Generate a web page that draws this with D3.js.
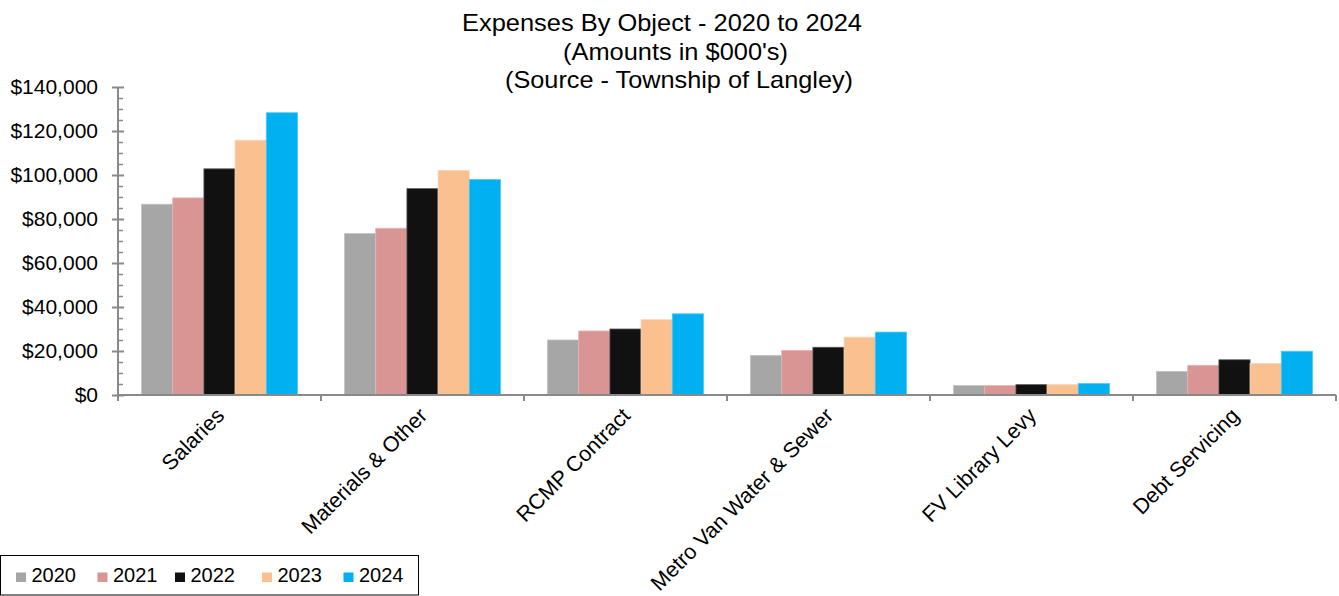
<!DOCTYPE html>
<html>
<head>
<meta charset="utf-8">
<script src="https://cdn.jsdelivr.net/npm/d3@7"></script>
<style>
  html, body { margin: 0; padding: 0; background: #fff; }
  svg { display: block; }
  text { font-family: "Liberation Sans", Arial, sans-serif; fill: #000; }
</style>
</head>
<body>
<svg id="chart" width="1339" height="596"></svg>
<script>
// Expense categories and yearly amounts ($000's)
const categories = ["Salaries", "Materials & Other", "RCMP Contract", "Metro Van Water & Sewer", "FV Library Levy", "Debt Servicing"];
const years = ["2020", "2021", "2022", "2023", "2024"];
const values2020 = [86700, 73400, 25000, 18000, 4300, 10700];
const values2021 = [89600, 75800, 29100, 20300, 4300, 13500];
const values2022 = [102800, 93800, 30000, 21700, 4700, 16000];
const values2023 = [115800, 102000, 34200, 26300, 4700, 14300];
const values2024 = [128300, 97900, 36900, 28600, 5200, 19900];
const yTicks = [0, 20000, 40000, 60000, 80000, 100000, 120000, 140000];
const titleLines = ["Expenses By Object - 2020 to 2024", "(Amounts in $000's)", "(Source - Township of Langley)"];

const seriesValues = [values2020, values2021, values2022, values2023, values2024];
const colors = ["#A6A6A6", "#D99594", "#111111", "#FAC090", "#00B0F0"];

const svg = d3.select("#chart");

const plot = { left: 118, right: 1336, top: 87, bottom: 395 };

const x0 = d3.scaleBand().domain(categories).range([plot.left, plot.right]).paddingInner(0).paddingOuter(0);
const bw = x0.bandwidth();
const x1 = d3.scaleBand().domain(years).range([bw * 0.116, bw * 0.884]).padding(0);
const y = d3.scaleLinear().domain([0, 140000]).range([plot.bottom, plot.top]);
const color = d3.scaleOrdinal().domain(years).range(colors);

// Title
const titleSpec = [
  { x: 462, y: 31, w: 400 },
  { x: 563, y: 60, w: 225 },
  { x: 505, y: 88, w: 348 }
];
svg.append("g").selectAll("text").data(titleLines).join("text")
  .attr("x", (d, i) => titleSpec[i].x)
  .attr("y", (d, i) => titleSpec[i].y)
  .attr("font-size", 24)
  .attr("textLength", (d, i) => titleSpec[i].w)
  .attr("lengthAdjust", "spacingAndGlyphs")
  .text(d => d);

// Bars
const groups = svg.append("g").selectAll("g").data(categories).join("g")
  .attr("transform", d => `translate(${x0(d)},0)`);

groups.selectAll("rect")
  .data((c, ci) => years.map((yr, si) => ({ year: yr, value: seriesValues[si][ci] })))
  .join("rect")
  .attr("x", d => x1(d.year))
  .attr("width", x1.bandwidth())
  .attr("y", d => y(d.value))
  .attr("height", d => y(0) - y(d.value))
  .attr("fill", d => color(d.year))
  .attr("stroke", d => d3.interpolateRgb(color(d.year), "#ffffff")(0.3))
  .attr("stroke-width", 0.8);

const axisColor = "#898989";

// Y axis: major ticks crossing the line, minor ticks on the inner side
const yAxis = svg.append("g").attr("transform", `translate(${plot.left},0)`)
  .call(d3.axisLeft(y).tickValues(yTicks).tickSize(6).tickPadding(14)
    .tickFormat(d => "$" + d3.format(",")(d)));
yAxis.select(".domain").attr("stroke", axisColor).attr("stroke-width", 2).attr("d", `M0,${plot.top}V${plot.bottom}`);
yAxis.selectAll(".tick line").attr("stroke", axisColor).attr("stroke-width", 2).attr("x1", -6).attr("x2", 6);
yAxis.selectAll(".tick text").attr("font-size", 21).attr("font-family", "Liberation Sans, Arial, sans-serif").attr("fill", "#000");

const minorTicks = d3.range(5000, 140000, 5000).filter(v => v % 20000 !== 0);
svg.append("g").attr("transform", `translate(${plot.left},0)`)
  .call(d3.axisRight(y).tickValues(minorTicks).tickSize(5).tickFormat(""))
  .call(g => g.select(".domain").remove())
  .call(g => g.selectAll(".tick line").attr("stroke", axisColor).attr("stroke-width", 1.5));

// X axis line with ticks at category boundaries
const boundaries = categories.map(c => x0(c)).concat([plot.right]);
svg.append("line")
  .attr("x1", plot.left).attr("x2", plot.right)
  .attr("y1", plot.bottom).attr("y2", plot.bottom)
  .attr("stroke", axisColor).attr("stroke-width", 2);
svg.append("g").selectAll("line").data(boundaries).join("line")
  .attr("x1", d => d).attr("x2", d => d)
  .attr("y1", plot.bottom).attr("y2", plot.bottom + 6)
  .attr("stroke", axisColor).attr("stroke-width", 2);

// Rotated category labels
svg.append("g").selectAll("text").data(categories).join("text")
  .attr("transform", d => `translate(${x0(d) + bw / 2 + 6},${plot.bottom + 22}) rotate(-45)`)
  .attr("text-anchor", "end")
  .attr("font-size", 21.5)
  .text(d => d);

// Legend
const legend = svg.append("g");
legend.append("rect")
  .attr("x", 0.5).attr("y", 555.5).attr("width", 418).attr("height", 39.5)
  .attr("fill", "#fff").attr("stroke", "#000").attr("stroke-width", 1);
const legendX = [16, 97.5, 175, 262, 343.5];
const items = legend.selectAll("g.item").data(years).join("g").attr("class", "item")
  .attr("transform", (d, i) => `translate(${legendX[i]},0)`);
items.append("rect").attr("x", 0).attr("y", 572.5).attr("width", 10).attr("height", 9.5).attr("fill", d => color(d));
items.append("text").attr("x", 15.5).attr("y", 582).attr("font-size", 20).text(d => d);
</script>
</body>
</html>
